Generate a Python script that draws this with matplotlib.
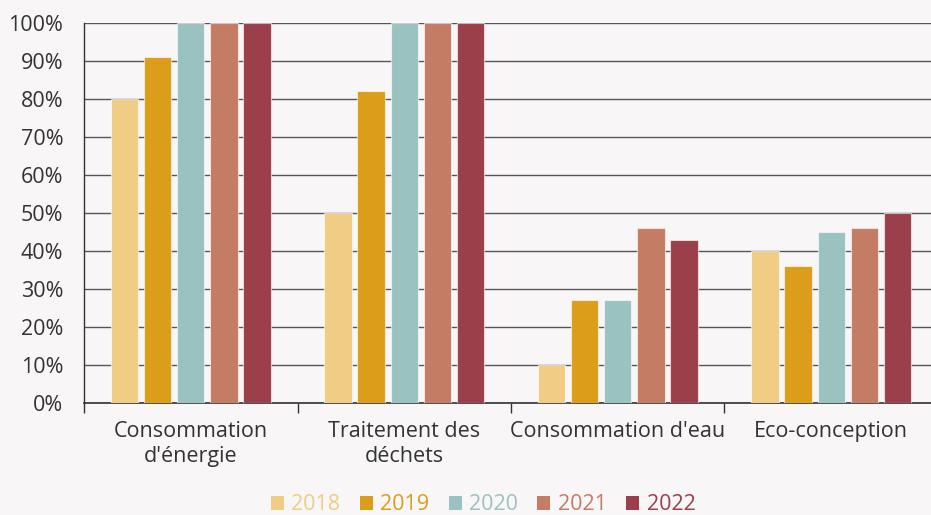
import matplotlib
matplotlib.use("Agg")
import matplotlib.pyplot as plt
import numpy as np
from matplotlib.patches import Patch

plt.rcParams['font.family'] = ['Open Sans', 'DejaVu Sans']

categories = ["Consommation\nd'énergie", "Traitement des\ndéchets", "Consommation d'eau", "Eco-conception"]
years = ["2018", "2019", "2020", "2021", "2022"]
values = {
    "2018": [80, 50, 10, 40],
    "2019": [91, 82, 27, 36],
    "2020": [100, 100, 27, 45],
    "2021": [100, 100, 46, 46],
    "2022": [100, 100, 43, 50],
}
colors = ["#f1cc85", "#dc9d1b", "#9ac2c1", "#c47c64", "#9b3f4a"]
bg = "#f8f6f7"

fig = plt.figure(figsize=(9.31, 5.15), dpi=100, facecolor=bg)
ax = fig.add_axes([84/931, 112/515, 854/931, 380/515], facecolor=bg)

x = np.arange(len(categories))
pitch = 0.155
width = 0.128
for i, (yr, c) in enumerate(zip(years, colors)):
    ax.bar(x + (i - 2) * pitch, values[yr], width=width, color=c,
           edgecolor=(1, 1, 1, 0.6), linewidth=0.8, zorder=3)

ax.set_xlim(-0.5, 3.5)
ax.set_ylim(0, 100)
ax.set_yticks(np.arange(0, 101, 10))
ax.set_yticklabels([f"{v}%" for v in range(0, 101, 10)], fontsize=15.5, color="#333333")
ax.yaxis.grid(True, color="#555555", linewidth=1.0, zorder=0)
ax.set_axisbelow(True)
ax.tick_params(axis='y', length=0, pad=15)

ax.set_xticks(x)
ax.set_xticklabels(categories, fontsize=15.5, color="#333333", linespacing=1.25)
ax.set_xticks(np.arange(-0.5, 3.6, 1), minor=True)
ax.tick_params(axis='x', which='major', length=0, pad=13)
ax.tick_params(axis='x', which='minor', length=7, width=1, color="#333333")

for s in ['top', 'right']:
    ax.spines[s].set_visible(False)
ax.spines['left'].set_color("#333333")
ax.spines['bottom'].set_color("#333333")
ax.spines['bottom'].set_linewidth(1.2)
ax.spines['left'].set_linewidth(1.0)

handles = [Patch(facecolor=c, edgecolor='none') for c in colors]
leg = fig.legend(handles, years, loc='center', bbox_to_anchor=(483/931, 1 - 505/515),
                 ncol=5, frameon=False, fontsize=15.5, labelcolor=colors,
                 handlelength=0.6, handleheight=0.6, handletextpad=0.35,
                 columnspacing=0.9, borderaxespad=0)

fig.savefig("out.png", dpi=100, facecolor=bg)
